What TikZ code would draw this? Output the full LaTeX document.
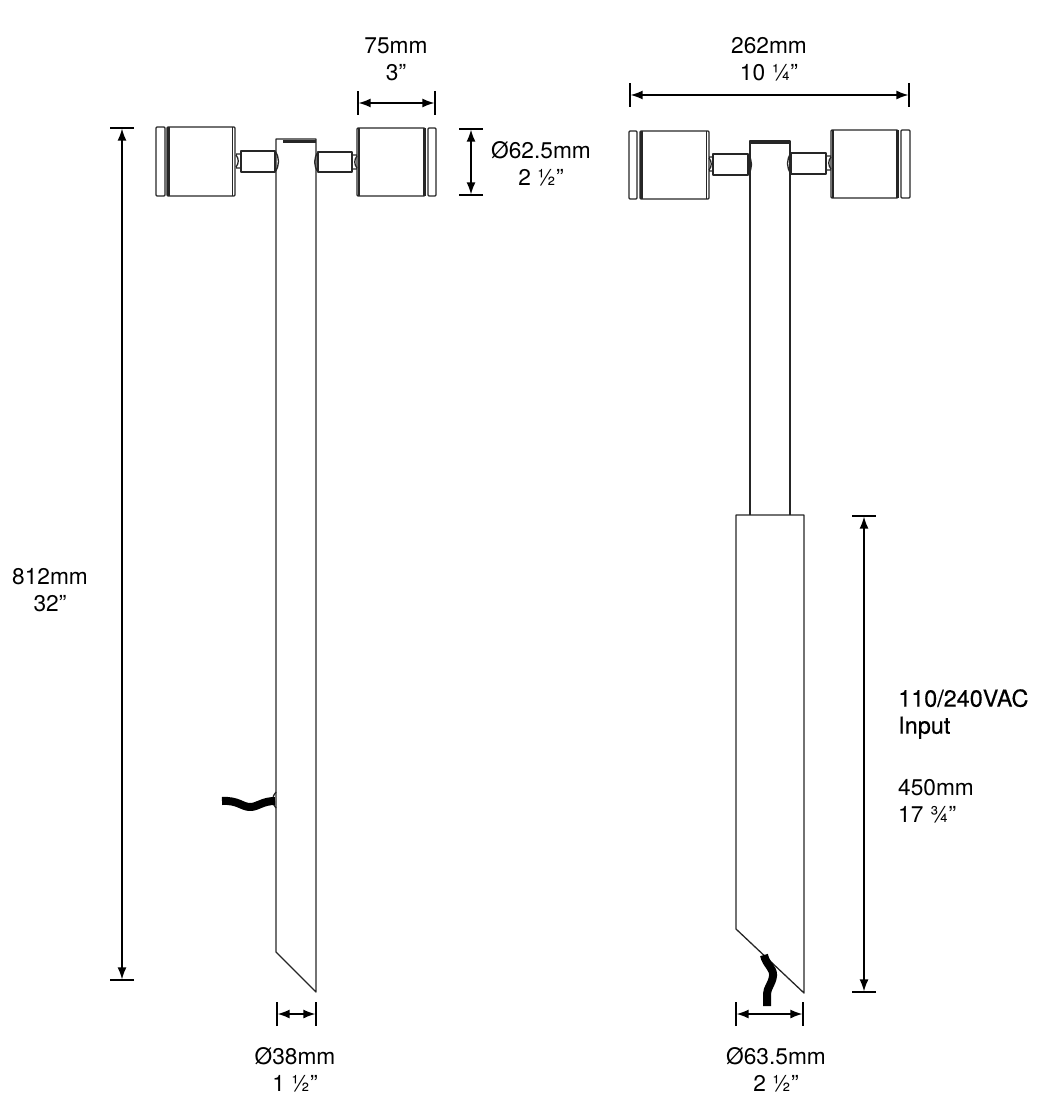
\documentclass[tikz,border=0pt]{standalone}
\usepackage{fontspec}
\setmainfont{TeX Gyre Heros}
\newfontfamily\inputfont[FakeBold=0.4]{TeX Gyre Heros}
\usetikzlibrary{arrows.meta}
\usetikzlibrary{positioning}

\begin{document}
\begin{tikzpicture}[x=1pt, y=-1pt, line join=round,
        part/.style={draw=black!85, line width=1.3pt},
        band/.style={draw=black!85, line width=3pt},
        cable/.style={draw=black, line width=8pt},
        dim/.style={line width=1.5pt, {Bar[width=24pt,line width=1.6pt].Latex[length=12pt,width=9pt]}-{Latex[length=12pt,width=9pt].Bar[width=24pt,line width=1.6pt]}},
        lbl/.style={font=\fontsize{22.7}{27}\selectfont, align=center, inner sep=0pt},
        note/.style={lbl, align=left, anchor=west}]
        \useasboundingbox (0, 0) rectangle (1038, 1097);

        % left lamp
        \draw[part] (276, 952) -- (276, 139) -- (316, 139) -- (316, 992) -- cycle;
        \draw[band] (283, 141) -- (316, 141);
        \draw[part, rounded corners=1pt] (156, 127) rectangle (165, 196);
        \draw[part, rounded corners=1pt] (167, 127) rectangle (235, 196);
        \draw[band] (168.5, 127) -- (168.5, 196);
        \draw[part] (232.5, 127) -- (232.5, 196);
        \draw[part] (241, 151) rectangle (275, 172);
        \draw[band, line width=2pt] (275, 151) -- (275, 172);
        \draw[part] (275, 151) to[bend left=35] (275, 172);
        \draw[part] (241, 154) -- (236, 154) (241, 168) -- (236, 168) (236, 155) to[bend left=40] (236, 167);
        \draw[part, rounded corners=1pt] (357, 128) rectangle (425, 196);
        \draw[part, rounded corners=1pt] (428, 128) rectangle (436, 196);
        \draw[band] (424, 128) -- (424, 196);
        \draw[part] (359, 128) -- (359, 196);
        \draw[part] (318, 152) rectangle (352, 172);
        \draw[band, line width=2pt] (318, 152) -- (318, 172);
        \draw[part] (318, 152) to[bend right=35] (318, 172);
        \draw[part] (352, 155) -- (357, 155) (352, 169) -- (357, 169) (357, 156) to[bend right=40] (357, 168);
        \draw[part] (276, 792) to[bend right=45] (276, 808);
        \draw[cable] (222, 801) .. controls (238, 800) and (242, 807) .. (250, 807) .. controls (258, 807) and (262, 801) .. (275, 801);

        % right lamp
        \draw[part] (750, 515) -- (750, 141) -- (790, 141) -- (790, 515);
        \draw[band] (750, 142) -- (790, 142);
        \draw[part] (736, 929) -- (736, 515) -- (804, 515) -- (804, 993) -- cycle;
        \draw[part, rounded corners=1pt] (629, 131) rectangle (637, 199);
        \draw[part, rounded corners=1pt] (640, 131) rectangle (709, 199);
        \draw[band] (641, 131) -- (641, 199);
        \draw[part] (706.5, 131) -- (706.5, 199);
        \draw[part] (713, 154) rectangle (748, 175);
        \draw[band, line width=2pt] (748, 154) -- (748, 175);
        \draw[part] (748, 154) to[bend left=35] (748, 175);
        \draw[part] (713, 157) -- (709, 157) (713, 171) -- (709, 171) (709, 158) to[bend left=40] (709, 170);
        \draw[part, rounded corners=1pt] (831, 130) rectangle (898, 198);
        \draw[part, rounded corners=1pt] (901, 130) rectangle (910, 198);
        \draw[band] (897, 130) -- (897, 198);
        \draw[part] (833, 130) -- (833, 198);
        \draw[part] (791, 153) rectangle (826, 174);
        \draw[part] (791, 153) to[bend right=35] (791, 174);
        \draw[part] (826, 156) -- (831, 156) (826, 170) -- (831, 170) (831, 157) to[bend right=40] (831, 169);
        \draw[cable] (764, 955) .. controls (766, 965) and (774, 968) .. (773, 976) .. controls (772, 984) and (767, 988) .. (767, 994) -- (767, 1006);

        % dimensions
        \coordinate (htop) at (122, 127);
        \coordinate (hbot) at (122, 981);
        \coordinate (wa) at (357, 103);
        \coordinate (wb) at (436, 103);
        \coordinate (da) at (471, 128);
        \coordinate (db) at (471, 196);
        \coordinate (spana) at (629, 95);
        \coordinate (spanb) at (910, 95);
        \coordinate (pa) at (276, 1014);
        \coordinate (pb) at (317, 1014);
        \coordinate (sa) at (735, 1014);
        \coordinate (sb) at (804, 1014);
        \coordinate (ga) at (864, 515);
        \coordinate (gb) at (864, 993);

        \draw[dim] (htop) -- (hbot);
        \draw[dim] (wa) -- (wb);
        \draw[dim] (da) -- (db);
        \draw[dim] (spana) -- (spanb);
        \draw[dim] (pa) -- (pb);
        \draw[dim] (sa) -- (sb);
        \draw[dim] (ga) -- (gb);

        \node[lbl] (hlabel) at (50, 590) {812mm\\32”};
        \node[lbl] (wlabel) at (396, 59) {75mm\\3”};
        \node[lbl] (dlabel) at (541, 164) {Ø62.5mm\\2 ½”};
        \node[lbl] (spanlabel) at (769, 59) {262mm\\10 ¼”};
        \node[lbl] (plabel) at (295, 1070) {Ø38mm\\1 ½”};
        \node[lbl] (slabel) at (776, 1070) {Ø63.5mm\\2 ½”};
        \node[note, font=\fontsize{23.4}{27}\inputfont] (inputlabel) at (898, 714) {110/240VAC\\Input};
        \node[note] (glabel) at (898, 801) {450mm\\17 ¾”};
    \end{tikzpicture}
\end{document}
